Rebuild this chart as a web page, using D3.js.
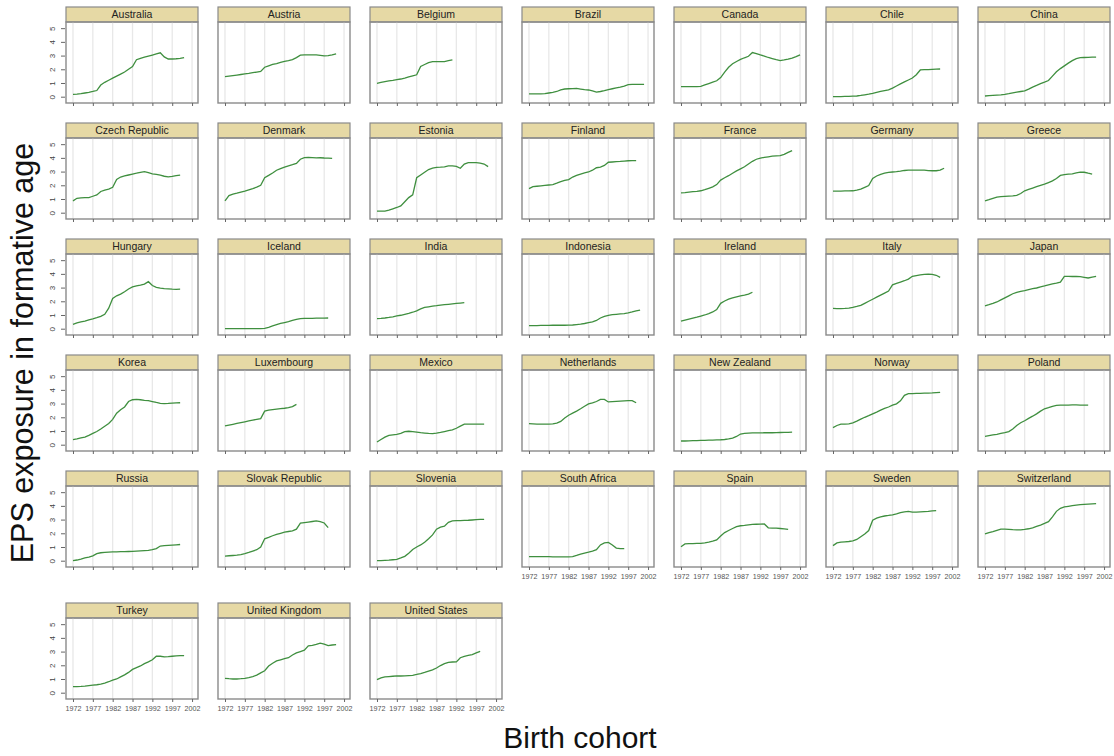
<!DOCTYPE html>
<html>
<head>
	<title>eps-cohort-panels</title>
	<meta charset="utf-8">
	<style type="text/css">
		body { margin: 0; background: #fff; }
		svg { font-family: "Liberation Sans", Arial, sans-serif; }
	</style>
</head>
<body>

<script type="text/javascript" src="https://cdn.jsdelivr.net/npm/d3@7/dist/d3.min.js"></script>
<script type="text/javascript">
	/*=========DATA=========*/
	var countries = ["Australia","Austria","Belgium","Brazil","Canada","Chile","China",
		"Czech Republic","Denmark","Estonia","Finland","France","Germany","Greece",
		"Hungary","Iceland","India","Indonesia","Ireland","Italy","Japan",
		"Korea","Luxembourg","Mexico","Netherlands","New Zealand","Norway","Poland",
		"Russia","Slovak Republic","Slovenia","South Africa","Spain","Sweden","Switzerland",
		"Turkey","United Kingdom","United States"];
	var firstYear = 1972;   // every series starts here, one value per year
	var xTicks = [1972,1977,1982,1987,1992,1997,2002];
	var yTicks = [0,1,2,3,4,5];

	// EPS exposure, same order as countries
	var values = [
		[0.17,0.19,0.22,0.27,0.32,0.38,0.45,0.85,1.05,1.2,1.35,1.5,1.65,1.8,2.0,2.2,2.7,2.8,2.88,2.96,3.04,3.12,3.2,2.9,2.75,2.75,2.77,2.8,2.85],
		[1.46,1.5,1.54,1.58,1.62,1.66,1.7,1.75,1.8,1.85,2.15,2.25,2.35,2.42,2.5,2.57,2.63,2.7,2.85,3.03,3.05,3.05,3.05,3.05,3.02,2.98,3.0,3.05,3.12],
		[0.98,1.04,1.1,1.15,1.19,1.24,1.29,1.36,1.44,1.52,1.6,2.2,2.35,2.48,2.56,2.56,2.56,2.56,2.63,2.68],
		[0.2,0.2,0.2,0.2,0.22,0.27,0.32,0.38,0.5,0.56,0.58,0.59,0.6,0.56,0.52,0.49,0.42,0.33,0.38,0.44,0.52,0.58,0.64,0.7,0.78,0.88,0.9,0.9,0.9,0.9],
		[0.73,0.73,0.73,0.73,0.74,0.76,0.86,0.96,1.06,1.16,1.4,1.8,2.15,2.4,2.57,2.72,2.84,2.95,3.22,3.15,3.05,2.96,2.86,2.78,2.7,2.63,2.68,2.74,2.82,2.92,3.05],
		[0.0,0.0,0.01,0.02,0.03,0.04,0.05,0.09,0.14,0.19,0.25,0.32,0.38,0.44,0.5,0.63,0.78,0.93,1.08,1.22,1.36,1.6,1.95,1.97,1.98,2.0,2.01,2.02],
		[0.05,0.08,0.1,0.12,0.14,0.17,0.22,0.28,0.33,0.38,0.42,0.55,0.7,0.82,0.95,1.06,1.18,1.5,1.82,2.05,2.25,2.45,2.63,2.78,2.85,2.86,2.87,2.88,2.88],
		[0.86,1.05,1.08,1.1,1.1,1.2,1.3,1.55,1.65,1.72,1.85,2.43,2.6,2.68,2.75,2.82,2.88,2.95,3.0,2.92,2.84,2.8,2.74,2.66,2.62,2.65,2.7,2.74],
		[0.86,1.25,1.35,1.42,1.5,1.58,1.67,1.76,1.86,2.0,2.55,2.72,2.9,3.1,3.22,3.33,3.42,3.5,3.6,3.9,4.02,4.04,4.02,4.0,4.01,3.99,3.98,3.97],
		[0.12,0.12,0.12,0.18,0.28,0.38,0.5,0.8,1.1,1.3,2.55,2.75,2.95,3.15,3.25,3.3,3.32,3.35,3.42,3.42,3.38,3.24,3.55,3.65,3.65,3.65,3.62,3.55,3.36],
		[1.76,1.9,1.93,1.96,1.99,2.02,2.05,2.15,2.26,2.35,2.42,2.6,2.72,2.82,2.9,2.97,3.1,3.28,3.33,3.45,3.68,3.7,3.72,3.74,3.77,3.79,3.8,3.8],
		[1.45,1.47,1.5,1.53,1.56,1.6,1.68,1.78,1.88,2.05,2.38,2.55,2.7,2.88,3.05,3.2,3.35,3.55,3.75,3.9,3.98,4.04,4.08,4.12,4.15,4.17,4.25,4.4,4.53],
		[1.57,1.58,1.58,1.59,1.59,1.6,1.65,1.72,1.85,1.98,2.5,2.68,2.8,2.88,2.94,2.97,2.99,3.03,3.08,3.11,3.11,3.11,3.11,3.1,3.07,3.06,3.06,3.1,3.24],
		[0.86,0.95,1.05,1.14,1.17,1.19,1.21,1.23,1.26,1.4,1.6,1.7,1.8,1.9,2.0,2.08,2.2,2.32,2.5,2.72,2.78,2.81,2.84,2.9,2.96,2.95,2.88,2.82],
		[0.32,0.42,0.5,0.56,0.65,0.72,0.8,0.9,1.05,1.5,2.2,2.4,2.52,2.7,2.9,3.05,3.12,3.18,3.25,3.43,3.15,3.02,2.96,2.92,2.9,2.88,2.87,2.88],
		[0,0,0,0,0,0,0,0,0,0,0.03,0.1,0.2,0.3,0.38,0.45,0.52,0.6,0.68,0.74,0.76,0.76,0.76,0.77,0.77,0.77,0.78],
		[0.74,0.75,0.78,0.82,0.87,0.93,0.98,1.05,1.12,1.2,1.3,1.45,1.55,1.6,1.65,1.68,1.72,1.75,1.78,1.81,1.84,1.87,1.9],
		[0.22,0.23,0.23,0.24,0.24,0.24,0.25,0.25,0.25,0.25,0.26,0.27,0.3,0.33,0.38,0.44,0.5,0.6,0.78,0.9,0.98,1.02,1.05,1.08,1.1,1.15,1.22,1.3,1.35],
		[0.56,0.63,0.7,0.77,0.84,0.92,1.0,1.1,1.22,1.4,1.85,2.02,2.15,2.25,2.33,2.4,2.45,2.52,2.66],
		[1.49,1.47,1.47,1.48,1.5,1.55,1.62,1.7,1.85,2.0,2.15,2.3,2.45,2.6,2.75,3.2,3.3,3.4,3.5,3.62,3.82,3.88,3.92,3.96,3.98,3.97,3.9,3.75],
		[1.67,1.75,1.84,1.95,2.1,2.25,2.4,2.55,2.65,2.72,2.78,2.85,2.92,2.97,3.05,3.12,3.2,3.27,3.33,3.4,3.82,3.82,3.81,3.81,3.8,3.75,3.7,3.76,3.82],
		[0.37,0.43,0.5,0.56,0.68,0.82,0.96,1.15,1.35,1.55,1.85,2.3,2.55,2.75,3.15,3.28,3.31,3.28,3.24,3.22,3.15,3.08,3.02,3.0,3.01,3.03,3.05,3.06],
		[1.37,1.43,1.49,1.55,1.61,1.67,1.73,1.79,1.85,1.9,2.45,2.52,2.56,2.6,2.63,2.66,2.7,2.78,2.94],
		[0.2,0.38,0.55,0.68,0.72,0.76,0.82,0.95,0.98,0.95,0.92,0.88,0.85,0.82,0.81,0.85,0.9,0.96,1.02,1.08,1.2,1.35,1.5,1.5,1.5,1.5,1.5,1.5],
		[1.54,1.52,1.5,1.5,1.5,1.5,1.52,1.58,1.7,1.95,2.15,2.3,2.45,2.62,2.8,2.98,3.05,3.15,3.31,3.3,3.12,3.14,3.16,3.18,3.2,3.21,3.21,3.06],
		[0.27,0.27,0.28,0.29,0.3,0.31,0.32,0.33,0.34,0.35,0.36,0.38,0.42,0.48,0.6,0.78,0.82,0.84,0.86,0.86,0.86,0.87,0.87,0.87,0.88,0.89,0.9,0.9,0.91],
		[1.25,1.4,1.5,1.5,1.52,1.6,1.72,1.86,2.0,2.12,2.25,2.38,2.52,2.65,2.75,2.88,2.98,3.2,3.6,3.72,3.73,3.74,3.75,3.76,3.77,3.78,3.8,3.82],
		[0.61,0.66,0.71,0.76,0.82,0.88,0.96,1.15,1.4,1.6,1.75,1.92,2.08,2.25,2.45,2.62,2.7,2.8,2.87,2.89,2.89,2.89,2.9,2.9,2.89,2.89,2.88],
		[0.0,0.05,0.12,0.2,0.26,0.35,0.52,0.58,0.6,0.62,0.64,0.65,0.66,0.66,0.67,0.68,0.7,0.72,0.74,0.76,0.8,0.88,1.07,1.1,1.12,1.14,1.16,1.18],
		[0.34,0.36,0.38,0.4,0.45,0.52,0.6,0.7,0.8,1.0,1.6,1.7,1.82,1.92,2.0,2.08,2.13,2.17,2.3,2.74,2.78,2.82,2.86,2.9,2.85,2.75,2.41],
		[0.0,0.0,0.02,0.04,0.07,0.1,0.2,0.32,0.55,0.82,1.0,1.15,1.35,1.6,1.88,2.3,2.45,2.52,2.8,2.9,2.92,2.93,2.94,2.95,2.97,2.99,3.01,3.02],
		[0.29,0.3,0.3,0.29,0.29,0.29,0.28,0.28,0.28,0.28,0.28,0.29,0.38,0.48,0.55,0.62,0.7,0.8,1.15,1.3,1.33,1.15,0.92,0.88,0.88],
		[1.02,1.22,1.24,1.25,1.26,1.27,1.3,1.35,1.42,1.52,1.8,2.05,2.2,2.35,2.48,2.55,2.58,2.62,2.65,2.66,2.67,2.68,2.4,2.37,2.37,2.35,2.32,2.29],
		[1.1,1.3,1.35,1.38,1.4,1.45,1.55,1.75,1.95,2.2,2.95,3.1,3.2,3.26,3.3,3.35,3.42,3.5,3.56,3.6,3.55,3.54,3.56,3.58,3.6,3.63,3.65],
		[1.96,2.05,2.13,2.22,2.3,2.3,2.28,2.26,2.25,2.25,2.28,2.33,2.4,2.5,2.6,2.72,2.85,3.2,3.6,3.82,3.92,3.97,4.02,4.06,4.09,4.11,4.13,4.15,4.17],
		[0.44,0.45,0.46,0.48,0.52,0.55,0.58,0.62,0.7,0.8,0.92,1.0,1.15,1.3,1.48,1.7,1.83,1.95,2.12,2.25,2.4,2.66,2.66,2.61,2.63,2.66,2.68,2.7,2.71],
		[1.05,1.02,1.0,1.0,1.02,1.05,1.1,1.18,1.28,1.45,1.6,1.95,2.15,2.32,2.4,2.48,2.55,2.75,2.9,3.0,3.1,3.42,3.46,3.52,3.62,3.55,3.44,3.48,3.51],
		[0.95,1.08,1.15,1.18,1.2,1.22,1.22,1.23,1.25,1.27,1.33,1.4,1.48,1.57,1.66,1.8,1.98,2.12,2.22,2.24,2.25,2.55,2.65,2.72,2.78,2.9,3.02]
	];

	/*=====SIZE SVG======*/
	var w = 1114;
	var h = 756;
	var svg = d3.select("body").append("svg").attr("width",w).attr("height",h);

	/*=====PANEL LAYOUT=====*/
	var nCol = 7;
	var left0 = 66, colStep = 152, panelW = 132;
	var top0 = 7, rowStep = 116, stripH = 15, plotH = 81;
	var nRow = Math.ceil(countries.length / nCol);

	function rowTop(r){
		// the last row is pushed down to make room for the axis labels above it
		return top0 + rowStep * r + (r == nRow - 1 ? 16 : 0);
	}

	var x = d3.scaleLinear().domain([1970.24, 2003.5]).range([0, panelW]);
	var y = d3.scaleLinear().domain([-0.46, 5.45]).range([plotH, 0]);

	var line = d3.line()
		.x(function(d){ return x(d[0]); })
		.y(function(d){ return y(d[1]); });

	var panels = svg.selectAll("g.panel")
		.data(countries)
		.enter()
		.append("g")
		.attr("class","panel")
		.attr("transform", function(d,i){
			var r = Math.floor(i / nCol), c = i % nCol;
			return "translate(" + (left0 + colStep * c) + "," + rowTop(r) + ")";
		});

	// strip
	panels.append("rect")
		.attr("x",0).attr("y",0)
		.attr("width",panelW).attr("height",stripH)
		.attr("fill","#e6d9a5")
		.attr("stroke","#8a8a8a").attr("stroke-width",1.2);
	panels.append("text")
		.attr("x",panelW/2).attr("y",stripH/2 + 3.6)
		.attr("text-anchor","middle")
		.attr("font-size",10.5)
		.attr("fill","#222")
		.text(function(d){ return d; });

	var plots = panels.append("g").attr("transform","translate(0," + stripH + ")");

	// vertical grid
	plots.selectAll("line.grid")
		.data(xTicks)
		.enter()
		.append("line")
		.attr("class","grid")
		.attr("x1",function(d){ return x(d); }).attr("x2",function(d){ return x(d); })
		.attr("y1",0).attr("y2",plotH)
		.attr("stroke","#e8e8e8").attr("stroke-width",1.3);

	// series
	plots.append("path")
		.attr("fill","none")
		.attr("stroke","#3f8f3f")
		.attr("stroke-width",1.3)
		.attr("d",function(d,i){
			var pts = values[i].map(function(v,k){ return [firstYear + k, v]; });
			return line(pts);
		});

	// frame
	plots.append("rect")
		.attr("x",0).attr("y",0)
		.attr("width",panelW).attr("height",plotH)
		.attr("fill","none")
		.attr("stroke","#8a8a8a").attr("stroke-width",1.4);

	// bottom tick marks on every panel, labels only under the last panel of a column
	plots.each(function(d,i){
		var g = d3.select(this);
		var c = i % nCol;
		var lastInCol = (i + nCol >= countries.length);
		var ax = d3.axisBottom(x).tickValues(xTicks).tickSize(3).tickSizeOuter(0)
			.tickFormat(lastInCol ? d3.format("d") : "");
		var xg = g.append("g").attr("transform","translate(0," + plotH + ")").call(ax);
		xg.select(".domain").remove();
		xg.selectAll("line").attr("stroke","#666");
		xg.selectAll("text").attr("font-size",7.2).attr("fill","#555").attr("dy","0.9em");

		if (c == 0) {
			var ay = d3.axisLeft(y).tickValues(yTicks).tickSize(4).tickSizeOuter(0)
				.tickFormat(d3.format("d"));
			var yg = g.append("g").attr("transform","translate(-1,0)").call(ay);
			yg.select(".domain").remove();
			yg.selectAll("line").attr("stroke","#666");
			yg.selectAll("text")
				.attr("font-size",8)
				.attr("fill","#444")
				.attr("x",null)
				.attr("text-anchor","middle")
				.attr("transform","translate(-13,0) rotate(-90)")
				.attr("dy","0.35em");
		}
	});

	/*=====TITLES=====*/
	svg.append("text")
		.attr("x",580).attr("y",748)
		.attr("text-anchor","middle")
		.attr("font-size",30)
		.attr("fill","#111")
		.text("Birth cohort");

	svg.append("text")
		.attr("transform","translate(33,353) rotate(-90)")
		.attr("text-anchor","middle")
		.attr("font-size",30.5)
		.attr("fill","#111")
		.text("EPS exposure in formative age");
</script>
</body>
</html>
